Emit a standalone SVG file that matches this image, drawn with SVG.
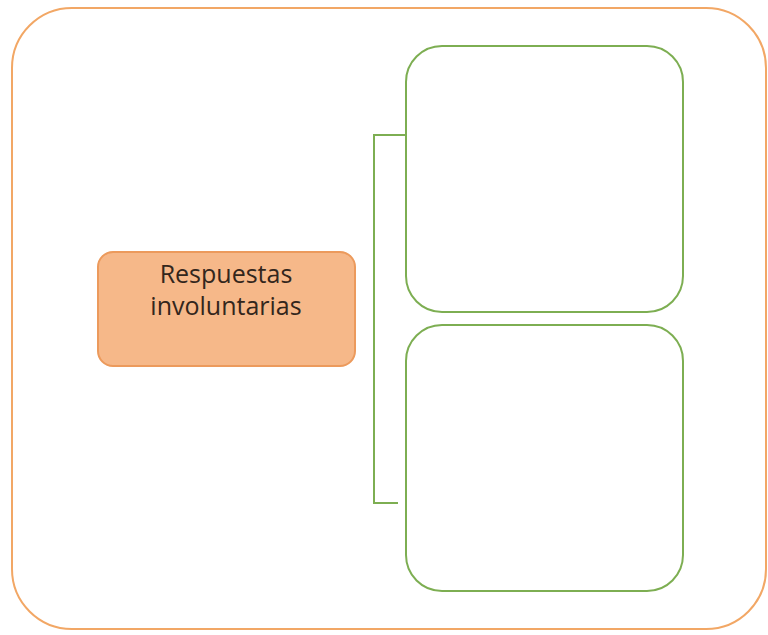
<svg xmlns="http://www.w3.org/2000/svg" width="768" height="635" viewBox="0 0 768 635">
<style>
.outer{fill:#fff;stroke:#F2A765;stroke-width:2}
.box{fill:#fff;stroke:#7DAE52;stroke-width:2}
.main{fill:#F6B889;stroke:#EC9A5C;stroke-width:2}
.conn{fill:none;stroke:#7DAE52;stroke-width:2}
.lbl{font-family:"Open Sans","Liberation Sans",sans-serif;font-size:25px;fill:#33261c;text-anchor:middle}
</style>
<rect width="768" height="635" fill="#fff"/>
<g id="frame"><rect class="outer" x="12" y="8" width="754" height="621" rx="60" ry="60"/></g>
<g id="connectors">
<polyline class="conn" points="406,135 374,135 374,503 398,503"/>
</g>
<g id="node-main">
<rect class="main" x="98" y="252" width="257" height="114" rx="15" ry="15"/>
<text class="lbl" x="226" y="283">Respuestas</text>
<text class="lbl" x="226" y="315">involuntarias</text>
</g>
<g id="node-top"><rect class="box" x="406" y="46" width="277" height="266" rx="36" ry="36"/></g>
<g id="node-bottom"><rect class="box" x="406" y="325" width="277" height="266" rx="36" ry="36"/></g>
</svg>
